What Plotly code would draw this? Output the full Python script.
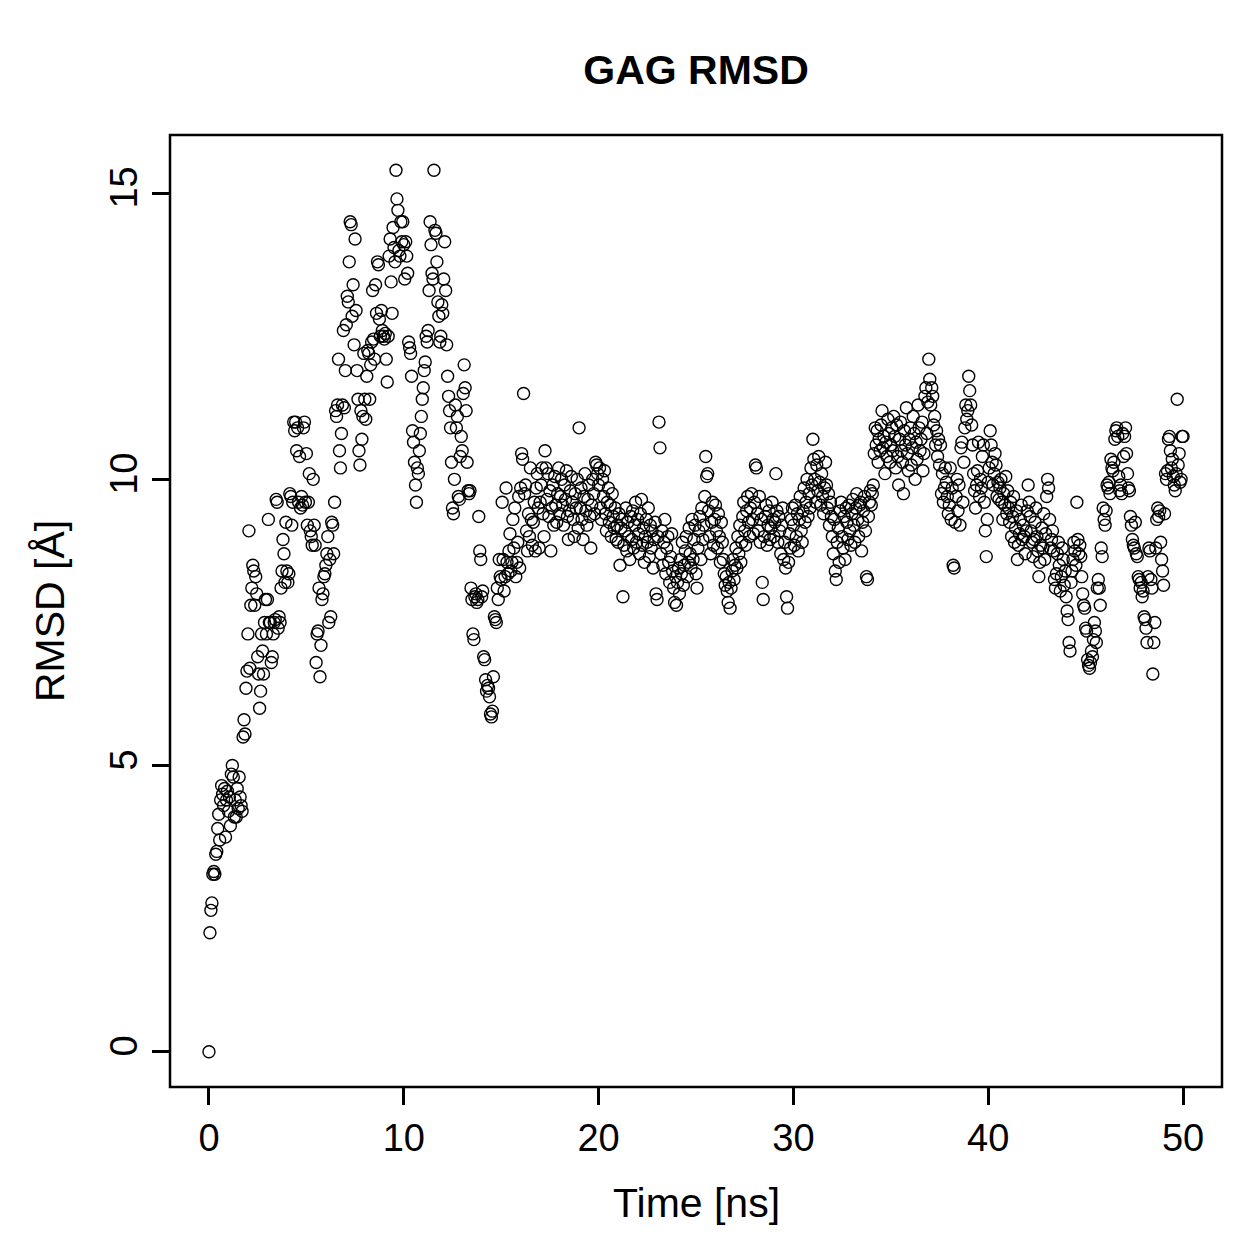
import plotly.graph_objects as go

# RMSD values (Angstrom), sampled every 0.05 ns, in 5-ns blocks
rmsd_00_05 = [
    0, 2.08, 2.47, 2.6, 3.1, 3.15, 3.1, 3.45, 3.5, 3.9, 4.15, 3.7, 4.4, 4.65, 4.5, 4.3, 4.6, 3.75, 4.4, 4.55,
    4.2, 4.45, 3.95, 4.85, 5.0, 4.8, 4.1, 4.4, 4.1, 4.6, 4.25, 4.8, 4.45, 4.3, 4.2, 5.5, 5.8, 5.55, 6.35, 6.65,
    7.3, 9.1, 6.7, 7.8, 8.1, 8.5, 8.4, 7.8, 8.3, 8.0, 6.9, 6.6, 6.0, 6.3, 7.3, 7.0, 6.6, 7.5, 7.9, 7.3,
    7.9, 9.3, 7.5, 7.5, 6.8, 6.9, 7.3, 7.5, 7.55, 9.65, 9.6, 7.4, 7.6, 7.5, 8.1, 8.4, 8.95, 8.7, 8.2, 9.25,
    8.4, 8.2, 8.35, 9.75, 9.7, 9.2, 9.6, 11.0, 10.85, 11.0, 10.5, 10.9, 9.6, 10.4, 9.5, 9.7, 9.55, 10.9, 11.0, 9.6,
]
rmsd_05_10 = [
    10.45, 9.2, 9.6, 10.1, 9.1, 9.0, 8.85, 10.0, 9.2, 8.85, 6.8, 7.3, 7.35, 8.1, 6.55, 7.1, 7.9, 8.0, 8.3, 8.35,
    8.5, 8.7, 9.0, 7.5, 8.6, 7.6, 9.25, 9.2, 8.7, 9.6, 11.2, 11.1, 11.3, 12.1, 10.5, 10.2, 10.8, 11.3, 12.6, 11.25,
    11.9, 12.7, 13.2, 13.1, 13.8, 14.5, 14.45, 12.85, 13.4, 12.35, 14.2, 12.95, 11.9, 11.4, 10.5, 10.25, 11.2, 10.7, 11.1, 12.2,
    11.4, 11.05, 11.8, 12.25, 12.2, 11.4, 12.0, 12.4, 13.3, 12.45, 12.1, 13.4, 12.9, 13.8, 13.75, 12.8, 12.5, 12.95, 12.6, 12.5,
    12.45, 12.55, 12.1, 11.7, 12.5, 13.9, 14.2, 13.45, 12.9, 14.4, 14.05, 13.8, 15.4, 14.9, 14.7, 14.0, 13.9, 14.5, 14.15, 14.5,
]
rmsd_10_15 = [
    14.1, 13.5, 14.15, 13.9, 13.6, 12.4, 12.3, 12.2, 11.8, 10.85, 10.65, 10.3, 9.9, 9.6, 10.2, 10.1, 10.5, 10.8, 11.1, 11.4,
    11.6, 11.9, 12.05, 12.5, 12.4, 12.6, 13.3, 14.5, 14.1, 13.6, 13.5, 15.4, 14.35, 14.3, 13.8, 13.1, 12.85, 12.4, 12.5, 13.05,
    12.9, 13.5, 14.15, 13.3, 12.35, 11.8, 11.45, 11.2, 10.9, 10.3, 9.5, 9.4, 10.0, 11.3, 10.9, 11.1, 9.7, 9.65, 10.4, 10.75,
    10.5, 11.5, 12.0, 11.6, 11.2, 10.3, 9.8, 9.75, 9.8, 8.1, 7.9, 7.3, 7.2, 7.95, 8.0, 7.85, 7.9, 9.35, 8.75, 8.6,
    7.95, 8.05, 6.9, 6.85, 6.5, 6.3, 6.4, 6.35, 6.2, 5.9, 5.85, 5.95, 6.55, 7.6, 7.55, 7.5, 8.1, 7.9, 8.6, 8.3,
]
rmsd_15_20 = [
    8.25, 9.6, 8.6, 8.05, 8.3, 9.85, 8.55, 8.35, 8.75, 9.05, 8.4, 8.55, 9.3, 8.8, 9.5, 8.3, 8.55, 8.9, 9.7, 8.45,
    9.85, 10.45, 10.35, 11.5, 9.75, 9.9, 9.1, 8.75, 9.4, 9.0, 10.2, 9.3, 8.85, 9.25, 9.6, 8.75, 9.85, 10.1, 9.5, 8.8,
    9.6, 9.9, 10.2, 9.4, 9.0, 10.5, 10.2, 9.65, 10.1, 9.35, 9.8, 8.75, 9.5, 9.9, 9.2, 10.05, 9.55, 9.25, 9.75, 10.2,
    9.4, 9.7, 10.0, 9.55, 9.2, 9.9, 9.65, 10.15, 9.35, 8.95, 9.45, 9.8, 10.05, 9.6, 9.3, 9.0, 9.75, 9.5, 10.0, 9.15,
    10.9, 9.5, 9.85, 9.3, 8.95, 9.7, 10.1, 9.45, 9.2, 9.65, 9.9, 9.35, 8.8, 9.55, 10.0, 9.75, 9.4, 10.3, 10.25, 10.1,
]
rmsd_20_25 = [
    9.9, 10.2, 9.5, 9.3, 10.0, 9.7, 10.15, 9.4, 9.1, 9.6, 9.85, 9.25, 9.55, 9.0, 9.75, 9.35, 9.15, 9.5, 8.95, 9.2,
    8.9, 9.4, 8.5, 9.15, 9.3, 7.95, 8.85, 9.1, 9.5, 8.75, 9.25, 9.0, 8.6, 9.35, 8.95, 9.45, 8.8, 9.2, 9.6, 8.9,
    9.3, 9.05, 8.7, 9.4, 9.65, 8.85, 9.15, 8.55, 9.0, 9.3, 8.9, 9.5, 8.65, 9.2, 8.8, 9.1, 8.45, 8.95, 9.25, 8.0,
    7.9, 9.0, 11.0, 10.55, 8.7, 9.1, 8.5, 8.9, 9.3, 8.35, 8.8, 9.0, 8.55, 8.2, 8.65, 9.05, 8.4, 8.1, 7.85, 8.3,
    7.8, 8.2, 8.45, 8.0, 8.6, 8.35, 8.9, 8.15, 8.5, 8.75, 9.0, 8.3, 8.55, 9.15, 8.7, 8.45, 9.3, 8.6, 8.95, 9.2,
]
rmsd_25_30 = [
    8.35, 8.1, 8.8, 9.1, 9.35, 8.6, 9.5, 8.95, 9.2, 9.7, 10.4, 10.05, 10.1, 9.45, 9.0, 8.7, 9.25, 9.6, 8.85, 9.3,
    9.55, 9.1, 8.8, 9.4, 9.0, 8.55, 9.25, 8.9, 8.6, 8.35, 8.15, 8.3, 8.05, 7.85, 8.2, 7.75, 8.1, 8.4, 8.6, 8.25,
    8.5, 8.8, 8.45, 9.0, 8.7, 9.2, 8.55, 8.9, 9.35, 9.6, 9.1, 8.85, 9.45, 9.7, 9.25, 9.0, 9.5, 9.75, 9.3, 9.05,
    9.6, 10.25, 10.2, 9.4, 9.1, 9.7, 8.9, 9.3, 8.2, 7.9, 9.0, 9.35, 9.55, 8.85, 9.2, 9.45, 8.95, 9.15, 9.6, 9.3,
    9.0, 9.25, 10.1, 9.45, 8.9, 9.35, 9.1, 8.7, 9.2, 9.5, 8.6, 8.9, 8.45, 7.95, 7.75, 8.55, 9.05, 8.8, 9.3, 9.5,
]
rmsd_30_35 = [
    9.2, 8.85, 9.55, 9.0, 9.4, 8.75, 9.3, 9.7, 9.1, 8.9, 9.45, 9.85, 9.25, 9.6, 10.0, 9.35, 9.75, 9.5, 10.2, 9.9,
    10.7, 10.35, 10.0, 9.6, 10.25, 9.8, 10.4, 9.95, 9.55, 10.1, 9.7, 9.4, 9.85, 10.3, 9.9, 9.5, 9.75, 9.2, 9.6, 9.35,
    9.0, 8.7, 9.3, 8.4, 8.25, 8.9, 9.15, 8.55, 9.45, 9.6, 9.0, 8.8, 9.35, 8.6, 9.5, 9.25, 8.95, 9.55, 9.1, 8.85,
    9.4, 9.65, 9.2, 8.9, 9.5, 9.75, 9.3, 9.0, 9.55, 9.6, 8.75, 9.25, 9.45, 9.7, 9.1, 8.3, 8.25, 9.35, 9.6, 9.8,
    9.55, 9.75, 9.9, 10.45, 10.9, 10.6, 10.85, 10.3, 10.7, 10.5, 10.95, 11.2, 10.55, 10.75, 10.1, 10.65, 10.4, 11.05, 10.8, 10.3,
]
rmsd_35_40 = [
    10.6, 10.9, 10.5, 11.1, 10.75, 10.2, 10.95, 10.4, 9.9, 10.7, 11.0, 10.5, 10.3, 9.75, 10.85, 10.6, 11.25, 10.45, 10.15, 10.7,
    10.9, 10.25, 10.55, 11.1, 10.8, 10.0, 10.65, 10.35, 11.3, 10.9, 10.5, 10.7, 11.0, 10.15, 10.45, 11.45, 11.6, 10.8, 11.35, 12.1,
    11.75, 11.3, 11.6, 11.45, 10.95, 11.1, 10.6, 10.85, 10.4, 10.7, 10.25, 10.6, 9.75, 10.1, 9.6, 9.85, 10.2, 9.95, 9.7, 9.4,
    9.55, 10.2, 9.3, 9.85, 8.5, 8.45, 9.25, 9.7, 10.0, 9.45, 9.9, 9.2, 10.55, 10.65, 9.6, 10.3, 10.9, 11.3, 11.05, 11.2,
    11.8, 11.55, 11.3, 10.95, 10.6, 10.1, 9.8, 9.5, 9.9, 10.15, 10.65, 9.7, 10.0, 9.85, 10.4, 10.6, 9.6, 9.1, 8.65, 9.3,
]
rmsd_40_45 = [
    9.95, 10.2, 10.85, 10.6, 10.3, 9.9, 10.1, 10.45, 10.25, 9.7, 9.95, 9.65, 9.85, 10.0, 9.6, 9.3, 9.75, 9.55, 10.05, 9.4,
    9.8, 9.5, 9.25, 9.6, 9.0, 9.35, 9.7, 8.9, 9.15, 9.45, 8.6, 8.85, 9.05, 9.3, 9.55, 8.95, 9.2, 9.0, 8.7, 9.1,
    9.45, 9.9, 9.6, 9.35, 9.1, 8.9, 8.65, 8.95, 9.25, 9.5, 9.0, 8.75, 8.3, 8.55, 8.85, 9.15, 8.8, 9.4, 8.6, 9.05,
    9.7, 10.0, 9.85, 9.3, 8.8, 8.95, 9.1, 8.75, 8.25, 8.1, 8.35, 8.7, 8.9, 8.5, 8.05, 8.3, 8.8, 8.6, 8.15, 8.4,
    7.95, 7.7, 7.55, 7.15, 7.0, 8.2, 8.4, 8.6, 8.9, 8.75, 8.5, 9.6, 8.95, 8.7, 8.85, 8.65, 8.3, 8.0, 7.8, 7.75,
]
rmsd_45_50 = [
    7.4, 7.35, 6.85, 6.75, 6.7, 6.8, 7.0, 6.9, 7.2, 7.5, 7.35, 7.15, 8.1, 8.25, 8.1, 7.8, 8.8, 8.65, 9.5, 9.3,
    9.2, 9.45, 9.9, 9.85, 9.95, 9.75, 10.35, 10.2, 10.15, 10.3, 10.7, 10.85, 10.9, 10.75, 10.05, 9.8, 9.9, 9.75, 10.8, 10.4,
    10.75, 10.9, 10.45, 10.1, 9.85, 9.8, 9.35, 9.2, 8.95, 8.85, 8.8, 9.25, 8.7, 8.65, 8.3, 8.25, 8.1, 8.2, 7.95, 8.05,
    7.6, 7.55, 7.4, 7.15, 8.3, 8.8, 8.75, 8.25, 8.1, 6.6, 7.15, 7.5, 8.8, 9.3, 9.5, 9.35, 9.45, 8.9, 8.6, 8.4,
    8.15, 9.4, 10.1, 10.0, 10.15, 10.7, 10.75, 10.5, 10.2, 10.35, 10.05, 9.9, 9.8, 10.1, 11.4, 10.25, 10.45, 9.95, 10.0, 10.75,
]
rmsd_50 = [10.75]

blocks = [
    (0, rmsd_00_05), (5, rmsd_05_10), (10, rmsd_10_15), (15, rmsd_15_20), (20, rmsd_20_25),
    (25, rmsd_25_30), (30, rmsd_30_35), (35, rmsd_35_40), (40, rmsd_40_45), (45, rmsd_45_50),
    (50, rmsd_50),
]
time_ns, rmsd = [], []
for start, vals in blocks:
    n = len(vals)
    step = 5.0 / n if start < 50 else 0
    for i, v in enumerate(vals):
        time_ns.append(start + i * step)
        rmsd.append(v)

x_ticks = [0, 10, 20, 30, 40, 50]
y_ticks = [0, 5, 10, 15]

FONT = "Liberation Sans, Arial, Helvetica, sans-serif"
TICK_SIZE = 38
LABEL_SIZE = 41

fig = go.Figure()
fig.add_trace(go.Scatter(
    x=time_ns, y=rmsd, mode="markers",
    marker=dict(symbol="circle-open", size=12, color="black",
                line=dict(color="black", width=1.4)),
    showlegend=False, hoverinfo="skip",
))

fig.update_layout(
    width=1259, height=1259,
    margin=dict(l=170, r=37, t=135, b=172),
    paper_bgcolor="white", plot_bgcolor="white",
    font=dict(family=FONT, color="black", size=TICK_SIZE),
    title=dict(text="<b>GAG RMSD</b>", x=696 / 1259, xref="container", xanchor="center",
               y=1 - 70 / 1259, yref="container", yanchor="middle",
               font=dict(size=41, family=FONT, color="black")),
    xaxis=dict(range=[-2, 52], tickvals=x_ticks, ticktext=[str(v) for v in x_ticks],
               ticks="outside", ticklen=17, tickwidth=2.5, tickcolor="black",
               showgrid=False, zeroline=False, showline=False,
               tickfont=dict(size=TICK_SIZE, family=FONT, color="black")),
    yaxis=dict(range=[-0.616, 16.016], tickvals=y_ticks, ticktext=[str(v) for v in y_ticks],
               ticks="outside", ticklen=17, tickwidth=2.5, tickcolor="black",
               tickangle=-90,
               showgrid=False, zeroline=False, showline=False,
               tickfont=dict(size=TICK_SIZE, family=FONT, color="black")),
    shapes=[dict(type="rect", xref="paper", yref="paper", x0=0, x1=1, y0=0, y1=1,
                 line=dict(color="black", width=2.5), fillcolor="rgba(0,0,0,0)")],
    annotations=[
        dict(text="Time [ns]", xref="paper", yref="paper", x=0.5, y=-(1203 - 1087) / 952,
             xanchor="center", yanchor="middle", showarrow=False,
             font=dict(size=LABEL_SIZE, family=FONT, color="black")),
        dict(text="RMSD [Å]", xref="paper", yref="paper", x=-(170 - 50) / 1052, y=0.5,
             xanchor="center", yanchor="middle", textangle=-90, showarrow=False,
             font=dict(size=LABEL_SIZE, family=FONT, color="black")),
    ],
)

fig.write_html("out.html")
